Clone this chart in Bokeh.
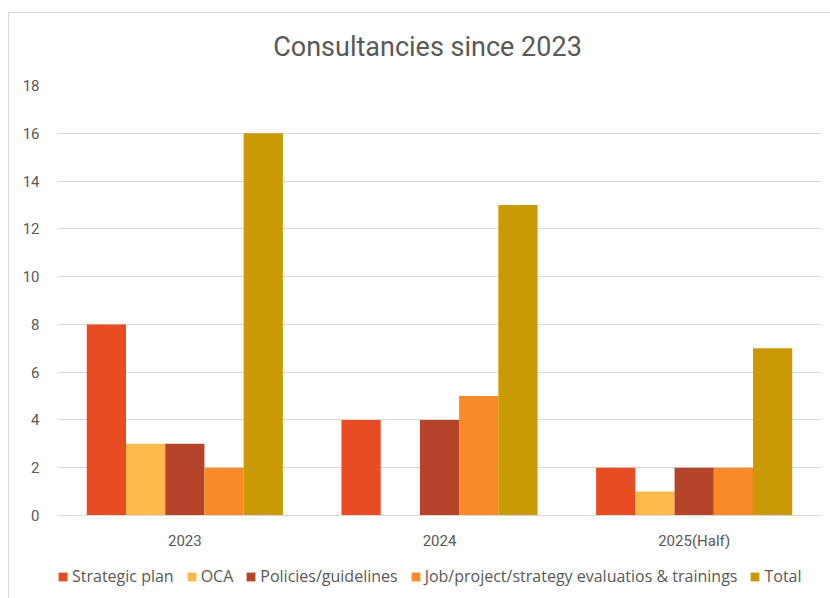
from bokeh.plotting import figure
from bokeh.models import ColumnDataSource, Legend, LegendItem, FactorRange, Label
from bokeh.layouts import column
from bokeh.transform import dodge
from bokeh.embed import file_html
from bokeh.resources import INLINE

title_text = "Consultancies since 2023"
years = ["2023", "2024", "2025(Half)"]
series = ["Strategic plan", "OCA", "Policies/guidelines",
          "Job/project/strategy evaluatios & trainings", "Total"]
strategic = [8, 4, 2]
oca = [3, 0, 1]
policies = [3, 4, 2]
job = [2, 5, 2]
total = [16, 13, 7]
colors = ["#E84C22", "#FDB94A", "#B5452A", "#F88A2A", "#C99A06"]

src = ColumnDataSource(dict(year=years, s0=strategic, s1=oca, s2=policies, s3=job, s4=total))

# title strip
tt = figure(width=822, height=62, output_backend="svg", toolbar_location=None,
            x_range=(0, 1), y_range=(0, 1), min_border=0,
            x_axis_location=None, y_axis_location=None)
tt.grid.visible = False
tt.outline_line_color = None
tt.add_layout(Label(x=370, y=29, x_units="screen", y_units="screen", text=title_text,
                    text_align="center", text_baseline="middle",
                    text_font="Roboto", text_font_size="27px", text_color="#595959"))

p = figure(x_range=FactorRange(*years, range_padding=0), y_range=(0, 18),
           width=822, height=480, output_backend="svg", toolbar_location=None,
           min_border_left=48, min_border_right=10, min_border_top=10, min_border_bottom=40)

w = 0.154
offsets = [-2 * w, -w, 0, w, 2 * w]
for i, c in enumerate(colors):
    p.vbar(x=dodge("year", offsets[i], range=p.x_range), top="s%d" % i, width=w,
           source=src, color=c, line_color=None)

p.outline_line_color = None
p.xgrid.grid_line_color = None
p.ygrid.grid_line_color = "#d9d9d9"
p.ygrid.grid_line_width = 1
p.yaxis.ticker = list(range(0, 19, 2))
p.yaxis.axis_line_color = None
p.yaxis.major_tick_line_color = None
p.yaxis.minor_tick_line_color = None
p.yaxis.major_label_text_color = "#595959"
p.yaxis.major_label_text_font = "Roboto"
p.yaxis.major_label_text_font_size = "15px"
p.yaxis.major_label_standoff = 12
p.xaxis.axis_line_color = "#d9d9d9"
p.xaxis.major_tick_line_color = None
p.xaxis.minor_tick_line_color = None
p.xaxis.major_label_text_color = "#595959"
p.xaxis.major_label_text_font = "Roboto"
p.xaxis.major_label_text_font_size = "15px"
p.xaxis.major_label_standoff = 10

# legend strip
lg = figure(width=822, height=44, output_backend="svg", toolbar_location=None,
            x_range=(0, 1), y_range=(0, 1), min_border=0,
            x_axis_location=None, y_axis_location=None)
lg.grid.visible = False
lg.outline_line_color = None
items = []
for name, c in zip(series, colors):
    r = lg.vbar(x=[-10], top=[-5], bottom=[-6], width=0.1, color=c, line_color=None)
    items.append(LegendItem(label=name, renderers=[r]))
legend = Legend(items=items, orientation="horizontal", location=(0, 12),
                label_text_font="Open Sans", label_text_font_size="16px",
                label_text_color="#595959", glyph_width=11, glyph_height=11,
                label_standoff=4, spacing=12, padding=0, margin=0,
                border_line_color=None, background_fill_alpha=0)
lg.add_layout(legend, "center")

layout = column(tt, p, lg, spacing=0, margin=(12, 0, 0, 8),
                styles={"border-top": "1px solid #d9d9d9", "border-left": "1px solid #d9d9d9"})

open("out.html", "w").write(file_html(layout, INLINE))
